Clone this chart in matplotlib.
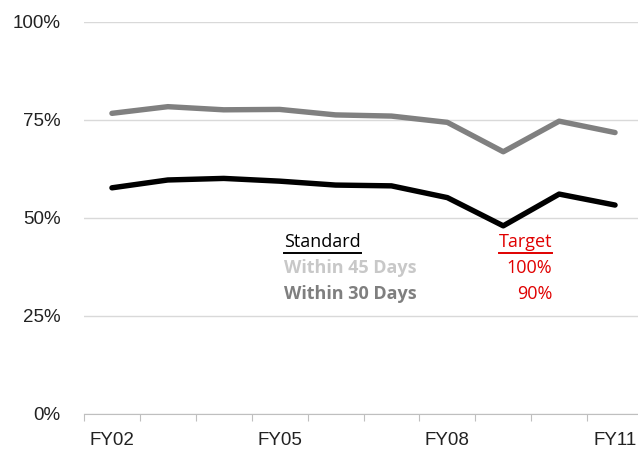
import matplotlib
matplotlib.use("Agg")
import matplotlib.pyplot as plt
from matplotlib.lines import Line2D

years = ["FY02", "FY03", "FY04", "FY05", "FY06", "FY07", "FY08", "FY09", "FY10", "FY11"]
within_45 = [76.7, 78.4, 77.6, 77.7, 76.3, 76.0, 74.4, 66.9, 74.7, 71.8]
within_30 = [57.7, 59.7, 60.1, 59.4, 58.4, 58.2, 55.2, 48.0, 56.1, 53.3]
yticks = [0, 25, 50, 75, 100]

plt.rcParams['font.family'] = ['Liberation Sans', 'DejaVu Sans']

fig = plt.figure(figsize=(6.38, 4.58), dpi=100)
ax = fig.add_axes([84 / 638, 44 / 458, 559 / 638, 392 / 458])

x = [i + 0.5 for i in range(len(years))]
ax.plot(x, within_45, color="#808080", lw=3.9, solid_capstyle="round", zorder=3)
ax.plot(x, within_30, color="black", lw=3.9, solid_capstyle="round", zorder=3)

ax.set_xlim(0, len(years))
ax.set_ylim(0, 100)
ax.set_yticks(yticks)
ax.set_yticklabels([f"{v}%" for v in yticks], fontsize=13.5, color="#222222")
ax.yaxis.grid(True, color="#d9d9d9", lw=1)
ax.set_axisbelow(True)
ax.tick_params(axis="y", length=0, pad=17)

ax.set_xticks(range(len(years) + 1))
ax.set_xticklabels([])
ax.set_xticks([x[i] for i in range(0, len(years), 3)], minor=True)
ax.set_xticklabels([years[i] for i in range(0, len(years), 3)], minor=True,
                   fontsize=13.5, color="#222222")
ax.tick_params(axis="x", which="major", length=5, color="#bfbfbf", direction="out")
ax.tick_params(axis="x", which="minor", length=0, pad=13)

for s in ["top", "right", "left"]:
    ax.spines[s].set_visible(False)
ax.spines["bottom"].set_color("#bfbfbf")

# legend table
tfont = ['Open Sans', 'DejaVu Sans']
fs = 13
fig.canvas.draw()
rend = fig.canvas.get_renderer()

def underlined(xp, yp, txt, color, ha):
    t = fig.text(xp / 638, 1 - yp / 458, txt, color=color, fontsize=fs, ha=ha,
                 va="baseline", family=tfont)
    bb = t.get_window_extent(rend)
    uy = bb.y0 - 2
    fig.add_artist(Line2D([bb.x0 / fig.bbox.width, bb.x1 / fig.bbox.width],
                          [uy / fig.bbox.height] * 2, color=color, lw=1.4,
                          transform=fig.transFigure))

underlined(284, 247, "Standard", "black", "left")
underlined(552, 247, "Target", "#e00000", "right")
fig.text(284 / 638, 1 - 273 / 458, "Within 45 Days", color="#c8c8c8", fontsize=fs,
         fontweight="bold", family=tfont, va="baseline")
fig.text(284 / 638, 1 - 299 / 458, "Within 30 Days", color="#7f7f7f", fontsize=fs,
         fontweight="bold", family=tfont, va="baseline")
fig.text(552 / 638, 1 - 273 / 458, "100%", color="#e00000", fontsize=fs,
         family=tfont, ha="right", va="baseline")
fig.text(552 / 638, 1 - 299 / 458, "90%", color="#e00000", fontsize=fs,
         family=tfont, ha="right", va="baseline")

fig.savefig("out.png", dpi=100)
